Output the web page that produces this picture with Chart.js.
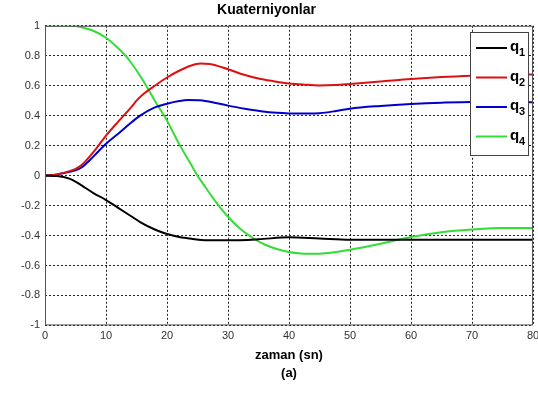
<!DOCTYPE html>
<html>
<head>
<meta charset="utf-8">
<script src="https://cdn.jsdelivr.net/npm/chart.js@4.4.1/dist/chart.umd.min.js"></script>
<style>
  html, body { margin: 0; padding: 0; background: #fff; }
  #wrap { width: 538px; height: 394px; }
</style>
</head>
<body>
<div id="wrap"><canvas id="chartQuat"></canvas></div>
<script>
// zaman (sn) y valores de cada cuaternión
const tQ1 = [0, 2, 4, 5, 6, 8, 10, 12, 14, 15.6, 18, 20, 22, 24, 26.5, 30, 35, 40, 45, 50, 60, 70, 80];
const q1 = [0, -0.003, -0.02, -0.04, -0.065, -0.118, -0.163, -0.215, -0.268, -0.31, -0.36, -0.39, -0.41, -0.422, -0.432, -0.432, -0.425, -0.412, -0.42, -0.428, -0.428, -0.428, -0.428];

const tQ2 = [0, 2, 4, 5, 6, 8, 10, 12, 14, 15, 16, 18, 20, 22, 24, 25.5, 27, 30, 32.5, 35, 37.5, 40, 42.5, 45, 47.5, 50, 55, 60, 65, 70, 75, 80];
const q2 = [0, 0.008, 0.03, 0.045, 0.07, 0.16, 0.267, 0.36, 0.45, 0.5, 0.54, 0.6, 0.655, 0.7, 0.735, 0.748, 0.745, 0.71, 0.675, 0.648, 0.63, 0.615, 0.607, 0.602, 0.605, 0.612, 0.628, 0.645, 0.658, 0.667, 0.673, 0.675];

const tQ3 = [0, 2, 4, 5, 6, 8, 10, 12, 14, 15.6, 18, 20, 22, 23.5, 25.4, 28, 30, 33, 35.4, 38, 40, 43, 45, 47.5, 50, 55, 60, 65, 70, 80];
const q3 = [0, 0.008, 0.025, 0.035, 0.055, 0.13, 0.213, 0.28, 0.35, 0.4, 0.455, 0.48, 0.498, 0.505, 0.503, 0.485, 0.467, 0.445, 0.43, 0.419, 0.415, 0.414, 0.417, 0.43, 0.447, 0.465, 0.478, 0.487, 0.492, 0.49];

const tQ4 = [0, 2, 4, 5, 6, 8, 10, 12, 13, 14, 16, 18, 20, 22, 24, 25, 26, 28, 30, 32, 34, 36, 38, 40, 42, 44, 46, 48, 50, 55, 60, 65, 70, 75, 80];
const q4 = [1, 1, 1, 0.998, 0.99, 0.965, 0.92, 0.85, 0.81, 0.76, 0.64, 0.5, 0.367, 0.21, 0.07, 0, -0.06, -0.175, -0.275, -0.355, -0.415, -0.46, -0.49, -0.51, -0.52, -0.522, -0.518, -0.508, -0.495, -0.455, -0.41, -0.378, -0.36, -0.35, -0.35];

const xTicks = [0, 10, 20, 30, 40, 50, 60, 70, 80];
const yTicks = [-1, -0.8, -0.6, -0.4, -0.2, 0, 0.2, 0.4, 0.6, 0.8, 1];

const seriesNames = ['q1', 'q2', 'q3', 'q4'];
const seriesColors = ['#000000', '#dd1111', '#0000cc', '#33dd33'];

const FONT = '"Liberation Sans", Arial, sans-serif';

function toPoints(ts, vs) {
    return ts.map((t, i) => ({ x: t, y: vs[i] }));
}

const allSeries = [
    toPoints(tQ1, q1),
    toPoints(tQ2, q2),
    toPoints(tQ3, q3),
    toPoints(tQ4, q4),
];

// marco del área y leyenda dentro del gráfico (estilo matlab)
const boxLegend = {
    id: 'boxLegend',
    afterDraw(chart) {
        const { ctx, chartArea: a } = chart;
        ctx.save();
        ctx.strokeStyle = '#555';
        ctx.lineWidth = 1;
        ctx.strokeRect(a.left + 0.5, a.top + 0.5, a.right - a.left - 1, a.bottom - a.top - 1);

        const bx = 470, by = 32, bw = 58, bh = 123;
        ctx.fillStyle = '#fff';
        ctx.fillRect(bx, by, bw, bh);
        ctx.strokeStyle = '#444';
        ctx.strokeRect(bx + 0.5, by + 0.5, bw, bh);

        chart.data.datasets.forEach((ds, i) => {
            const y = by + 16 + i * 29.5;
            ctx.strokeStyle = ds.borderColor;
            ctx.lineWidth = 2;
            ctx.beginPath();
            ctx.moveTo(bx + 6, y);
            ctx.lineTo(bx + 37, y);
            ctx.stroke();
            ctx.fillStyle = '#000';
            ctx.textBaseline = 'alphabetic';
            ctx.font = 'bold 15px ' + FONT;
            ctx.fillText(ds.label.charAt(0), bx + 40, y + 3);
            ctx.font = 'bold 11px ' + FONT;
            ctx.fillText(ds.label.slice(1), bx + 49, y + 8);
        });
        ctx.restore();
    }
};

new Chart(document.getElementById('chartQuat'), {
    type: 'line',
    data: {
        datasets: allSeries.map((pts, i) => ({
            label: seriesNames[i],
            data: pts,
            borderColor: seriesColors[i],
            borderWidth: 2,
            pointRadius: 0,
            fill: false,
            cubicInterpolationMode: 'monotone',
        })),
    },
    options: {
        responsive: true,
        maintainAspectRatio: false,
        animation: false,
        layout: { padding: { left: 0, right: 5, top: 0, bottom: 11 } },
        plugins: {
            legend: { display: false },
            tooltip: { enabled: false },
            title: {
                display: true,
                text: 'Kuaterniyonlar',
                color: '#000',
                font: { family: FONT, size: 14, weight: 'bold' },
                padding: { top: 2, bottom: 7 },
            },
        },
        scales: {
            x: {
                type: 'linear',
                min: 0,
                max: 80,
                afterBuildTicks: (s) => { s.ticks = xTicks.map(v => ({ value: v })); },
                afterFit: (s) => { s.paddingRight = 0; },
                ticks: {
                    color: '#333',
                    font: { family: FONT, size: 11 },
                    padding: 4,
                    maxRotation: 0,
                },
                grid: { color: '#222', lineWidth: 1, drawTicks: false },
                border: { display: false, dash: [2, 2] },
                title: {
                    display: true,
                    text: ['zaman (sn)', '(a)'],
                    color: '#000',
                    font: { family: FONT, size: 13, weight: 'bold', lineHeight: 1.4 },
                    padding: { top: 0, bottom: 0 },
                },
            },
            y: {
                min: -1,
                max: 1,
                afterBuildTicks: (s) => { s.ticks = yTicks.map(v => ({ value: v })); },
                afterFit: (s) => { s.width = 45; },
                ticks: {
                    color: '#333',
                    font: { family: FONT, size: 11 },
                    padding: 5,
                    callback: (v) => String(Math.round(v * 10) / 10),
                },
                grid: { color: '#222', lineWidth: 1, drawTicks: false },
                border: { display: false, dash: [2, 2] },
            },
        },
    },
    plugins: [boxLegend],
});
</script>
</body>
</html>
